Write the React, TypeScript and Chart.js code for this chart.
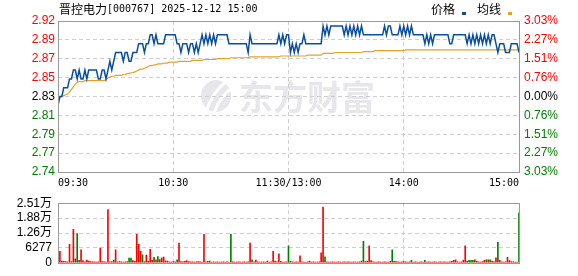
import React, { useEffect, useRef } from 'react';
import { Chart, registerables } from 'chart.js';

Chart.register(...registerables);

const TITLE_NAME = '晋控电力';
const TITLE_INFO = '[000767] 2025-12-12 15:00';
const LEGEND_PRICE = '价格';
const LEGEND_AVG = '均线';
const WATERMARK = '东方财富';

const PREV_CLOSE = 2.83;
const LIMIT_PCT = 3.03;

const timeTickMinutes = [0, 60, 120, 180, 240];
const timeLabels = ['09:30', '10:30', '11:30/13:00', '14:00', '15:00'];
// bottom -> top
const priceTickLabels = ['2.74', '2.77', '2.79', '2.81', '2.83', '2.85', '2.87', '2.89', '2.92'];
const pctTickLabels = ['3.03%', '2.27%', '1.51%', '0.76%', '0.00%', '0.76%', '1.51%', '2.27%', '3.03%'];
const volTickValues = [0, 6277, 12554, 18831, 25108];
const volTickLabels = ['0', '6277', '1.26万', '1.88万', '2.51万'];

const price = [
  2.82, 2.83, 2.83, 2.84, 2.84, 2.84, 2.85, 2.85, 2.86, 2.86,
  2.85, 2.86, 2.85, 2.85, 2.86, 2.85, 2.86, 2.86, 2.86, 2.86,
  2.86, 2.85, 2.85, 2.86, 2.86, 2.85, 2.86, 2.87, 2.86, 2.87,
  2.88, 2.88, 2.88, 2.88, 2.87, 2.88, 2.88, 2.87, 2.87, 2.88,
  2.88, 2.88, 2.89, 2.89, 2.89, 2.88, 2.89, 2.89, 2.90, 2.90,
  2.89, 2.90, 2.89, 2.89, 2.89, 2.89, 2.90, 2.90, 2.90, 2.90,
  2.90, 2.90, 2.89, 2.89, 2.88, 2.89, 2.89, 2.89, 2.88, 2.89,
  2.89, 2.88, 2.89, 2.88, 2.89, 2.90, 2.89, 2.90, 2.89, 2.90,
  2.89, 2.90, 2.89, 2.90, 2.90, 2.90, 2.90, 2.90, 2.90, 2.89,
  2.89, 2.89, 2.89, 2.89, 2.89, 2.89, 2.89, 2.89, 2.89, 2.88,
  2.90, 2.89, 2.89, 2.89, 2.89, 2.89, 2.89, 2.89, 2.89, 2.89,
  2.89, 2.89, 2.89, 2.89, 2.89, 2.90, 2.89, 2.90, 2.89, 2.90,
  2.90, 2.88, 2.89, 2.88, 2.89, 2.88, 2.89, 2.89, 2.90, 2.89,
  2.89, 2.89, 2.89, 2.89, 2.89, 2.89, 2.89, 2.89, 2.91, 2.90,
  2.91, 2.90, 2.91, 2.91, 2.91, 2.91, 2.91, 2.91, 2.91, 2.90,
  2.91, 2.90, 2.91, 2.90, 2.91, 2.90, 2.91, 2.90, 2.91, 2.90,
  2.90, 2.90, 2.90, 2.90, 2.90, 2.90, 2.90, 2.90, 2.90, 2.90,
  2.91, 2.90, 2.91, 2.91, 2.90, 2.90, 2.90, 2.90, 2.91, 2.90,
  2.91, 2.90, 2.91, 2.90, 2.91, 2.90, 2.90, 2.90, 2.90, 2.90,
  2.90, 2.89, 2.90, 2.89, 2.90, 2.89, 2.90, 2.90, 2.90, 2.90,
  2.90, 2.90, 2.90, 2.90, 2.89, 2.89, 2.90, 2.90, 2.90, 2.90,
  2.90, 2.90, 2.90, 2.89, 2.90, 2.89, 2.90, 2.89, 2.90, 2.89,
  2.90, 2.89, 2.90, 2.89, 2.90, 2.89, 2.90, 2.90, 2.89, 2.88,
  2.89, 2.89, 2.89, 2.88, 2.88, 2.88, 2.89, 2.89, 2.89, 2.89,
  2.88,
];

const avgPrice = [
  2.829, 2.829, 2.830, 2.831, 2.832, 2.833, 2.835, 2.838, 2.841, 2.844,
  2.846, 2.847, 2.847, 2.847, 2.848, 2.848, 2.848, 2.848, 2.848, 2.848,
  2.848, 2.848, 2.848, 2.848, 2.848, 2.849, 2.851, 2.852, 2.853, 2.853,
  2.854, 2.854, 2.854, 2.854, 2.855, 2.855, 2.856, 2.856, 2.857, 2.857,
  2.858, 2.859, 2.860, 2.861, 2.861, 2.862, 2.863, 2.864, 2.865, 2.865,
  2.866, 2.866, 2.867, 2.867, 2.867, 2.868, 2.868, 2.868, 2.869, 2.869,
  2.869, 2.869, 2.869, 2.870, 2.870, 2.870, 2.870, 2.870, 2.870, 2.870,
  2.871, 2.871, 2.871, 2.871, 2.871, 2.871, 2.872, 2.872, 2.872, 2.872,
  2.872, 2.872, 2.872, 2.873, 2.873, 2.873, 2.873, 2.873, 2.873, 2.873,
  2.874, 2.874, 2.874, 2.874, 2.874, 2.874, 2.874, 2.874, 2.874, 2.874,
  2.875, 2.875, 2.875, 2.875, 2.875, 2.875, 2.875, 2.875, 2.875, 2.875,
  2.875, 2.875, 2.875, 2.875, 2.875, 2.875, 2.876, 2.876, 2.876, 2.876,
  2.876, 2.876, 2.876, 2.876, 2.876, 2.876, 2.876, 2.876, 2.876, 2.876,
  2.877, 2.877, 2.877, 2.877, 2.877, 2.877, 2.877, 2.877, 2.879, 2.879,
  2.879, 2.879, 2.879, 2.879, 2.880, 2.880, 2.880, 2.880, 2.880, 2.880,
  2.880, 2.880, 2.880, 2.880, 2.880, 2.880, 2.880, 2.880, 2.880, 2.881,
  2.881, 2.881, 2.881, 2.881, 2.881, 2.882, 2.882, 2.882, 2.882, 2.882,
  2.882, 2.882, 2.882, 2.882, 2.882, 2.882, 2.882, 2.882, 2.882, 2.882,
  2.882, 2.883, 2.883, 2.883, 2.883, 2.883, 2.883, 2.883, 2.883, 2.883,
  2.883, 2.883, 2.883, 2.883, 2.883, 2.883, 2.883, 2.883, 2.883, 2.883,
  2.883, 2.883, 2.883, 2.883, 2.883, 2.883, 2.883, 2.883, 2.883, 2.883,
  2.883, 2.883, 2.883, 2.883, 2.883, 2.883, 2.883, 2.883, 2.883, 2.883,
  2.883, 2.883, 2.883, 2.883, 2.883, 2.883, 2.883, 2.883, 2.883, 2.883,
  2.883, 2.883, 2.883, 2.883, 2.883, 2.883, 2.883, 2.883, 2.883, 2.883,
  2.883,
];

const volume = [
  300, 4800, 700, 600, 500, 400, 7800, 500, 14100, 1700,
  12300, 1000, 5500, 900, 400, 1100, 700, 500, 400, 400,
  300, 400, 6200, 500, 400, 300, 22400, 400, 500, 1100,
  5500, 400, 500, 400, 300, 400, 500, 2000, 2000, 900,
  600, 12000, 7800, 4800, 3400, 500, 3200, 600, 5700, 1000,
  2300, 1200, 2600, 1400, 2100, 2400, 800, 700, 400, 300,
  500, 400, 1200, 8300, 500, 400, 600, 900, 500, 400,
  400, 300, 400, 500, 400, 300, 12000, 400, 600, 700,
  300, 400, 300, 400, 300, 300, 400, 300, 400, 300,
  12000, 400, 300, 300, 400, 300, 300, 400, 300, 400,
  8300, 1300, 400, 1100, 400, 300, 300, 400, 300, 700,
  300, 400, 4800, 700, 400, 3800, 600, 300, 300, 400,
  7200, 600, 400, 300, 400, 300, 2900, 400, 300, 300,
  400, 700, 300, 400, 300, 300, 400, 4200, 23500, 2500,
  400, 300, 300, 400, 300, 300, 400, 300, 300, 400,
  300, 400, 300, 300, 400, 300, 300, 400, 700, 9000,
  500, 700, 7200, 900, 400, 300, 300, 400, 300, 300,
  400, 300, 300, 600, 5500, 600, 500, 400, 300, 400,
  500, 400, 300, 400, 1000, 300, 400, 300, 300, 400,
  300, 1000, 300, 400, 300, 300, 400, 300, 300, 400,
  300, 400, 300, 300, 400, 600, 1000, 1300, 400, 300,
  400, 1100, 7200, 700, 1000, 1000, 1000, 1300, 700, 400,
  300, 500, 1000, 1300, 1300, 1300, 700, 400, 2100, 8600,
  1000, 400, 300, 400, 2300, 900, 500, 400, 300, 300,
  21000,
];

// minutes whose volume was sell-dominated (drawn green)
const downMinutes = [10, 11, 29, 37, 38, 44, 50, 52, 62, 79, 90, 101, 116, 120, 121, 139, 159, 174, 184, 191, 205, 214, 215, 216, 218, 223, 225, 229, 240];

const RED = '#ff0000';
const GREEN = '#008000';
const PRICE_COLOR = '#0a4f9e';
const AVG_COLOR = '#e0a526';
const GRID = '#cfcfcf';
const FRAME = '#999999';
const NUM_FONT = "'Liberation Sans', Arial, 'Noto Sans CJK SC', sans-serif";
const CJK_FONT = "'Noto Sans CJK SC', sans-serif";
const MONO_FONT = "'DejaVu Sans Mono', monospace";

const frameRect = (chart: any) => {
  const { ctx, chartArea: a } = chart;
  ctx.save();
  ctx.strokeStyle = FRAME;
  ctx.lineWidth = 1;
  ctx.strokeRect(Math.round(a.left) + 0.5, Math.round(a.top) + 0.5, Math.round(a.right - a.left), Math.round(a.bottom - a.top));
  ctx.restore();
};

export default function App() {
  const priceRef = useRef<HTMLCanvasElement | null>(null);
  const volRef = useRef<HTMLCanvasElement | null>(null);

  useEffect(() => {
    document.body.style.margin = '0';
    const yMax = PREV_CLOSE * (1 + LIMIT_PCT / 100);
    const yMin = PREV_CLOSE * (1 - LIMIT_PCT / 100);
    const labelColor = (i: number) => (i < 4 ? GREEN : i === 4 ? '#000000' : RED);
    const priceTicks = () => priceTickLabels.map((_, k) => ({ value: yMin + (k * (yMax - yMin)) / 8 }));
    const hideEdge = (last: number) => (c: any) => (c.index === 0 || c.index === last ? 'rgba(0,0,0,0)' : GRID);

    const xScale = (showLabels: boolean, height: number) => ({
      type: 'linear',
      min: 0,
      max: 240,
      offset: false,
      afterBuildTicks: (s: any) => {
        s.ticks = timeTickMinutes.map((v) => ({ value: v }));
      },
      afterFit: (s: any) => {
        s.height = height;
      },
      ticks: {
        display: showLabels,
        autoSkip: false,
        maxRotation: 0,
        minRotation: 0,
        align: 'inner',
        padding: 5,
        color: '#000000',
        font: { family: MONO_FONT, size: 10 },
        callback: (_v: any, i: number) => timeLabels[i],
      },
      grid: { drawTicks: false, offset: false, color: hideEdge(4), lineWidth: 1 },
      border: { display: false, dash: [4, 3] },
    });

    const decor = {
      id: 'decor',
      beforeDraw(chart: any) {
        const { ctx } = chart;
        ctx.save();
        // watermark logo
        ctx.fillStyle = '#e6e6eb';
        ctx.beginPath();
        ctx.ellipse(216, 96, 15, 16, 0, 0, Math.PI * 2);
        ctx.fill();
        ctx.strokeStyle = '#ffffff';
        ctx.lineWidth = 3;
        ctx.beginPath();
        ctx.moveTo(206, 112);
        ctx.quadraticCurveTo(212, 92, 228, 80);
        ctx.stroke();
        ctx.beginPath();
        ctx.moveTo(214, 113);
        ctx.quadraticCurveTo(220, 96, 232, 88);
        ctx.stroke();
        // watermark text
        ctx.fillStyle = '#e6e6eb';
        ctx.font = `bold 34px ${CJK_FONT}`;
        ctx.textAlign = 'left';
        ctx.textBaseline = 'middle';
        ctx.fillText(WATERMARK, 239, 97);
        ctx.restore();
      },
      afterDraw(chart: any) {
        const { ctx } = chart;
        frameRect(chart);
        ctx.save();
        ctx.fillStyle = '#000000';
        ctx.textAlign = 'left';
        ctx.textBaseline = 'middle';
        ctx.font = `12px ${CJK_FONT}`;
        ctx.fillText(TITLE_NAME, 59, 9);
        ctx.font = `10px ${MONO_FONT}`;
        ctx.fillText(TITLE_INFO, 107, 9);
        ctx.font = `12px ${CJK_FONT}`;
        ctx.fillText(LEGEND_PRICE, 431, 9);
        ctx.fillText(LEGEND_AVG, 477, 9);
        ctx.fillStyle = PRICE_COLOR;
        ctx.fillRect(462, 12, 4, 3);
        ctx.fillStyle = AVG_COLOR;
        ctx.fillRect(508, 12, 4, 3);
        ctx.restore();
      },
    };

    const priceChart = new Chart(priceRef.current as HTMLCanvasElement, {
      type: 'line',
      data: {
        datasets: [
          {
            label: LEGEND_PRICE,
            data: price.map((v, i) => ({ x: i, y: v })),
            borderColor: PRICE_COLOR,
            borderWidth: 1.5,
            pointRadius: 0,
            tension: 0,
            fill: false,
          },
          {
            label: LEGEND_AVG,
            data: avgPrice.map((v, i) => ({ x: i, y: v })),
            borderColor: AVG_COLOR,
            borderWidth: 1.2,
            pointRadius: 0,
            tension: 0,
            fill: false,
          },
        ],
      },
      options: {
        responsive: false,
        animation: false,
        events: [],
        layout: { padding: { top: 21, left: 0, right: 0, bottom: 0 } },
        plugins: { legend: { display: false }, tooltip: { enabled: false }, title: { display: false } },
        scales: {
          x: xScale(true, 18) as any,
          y: {
            type: 'linear',
            position: 'left',
            min: yMin,
            max: yMax,
            afterBuildTicks: (s: any) => {
              s.ticks = priceTicks();
            },
            afterFit: (s: any) => {
              s.width = 58;
            },
            ticks: {
              autoSkip: false,
              padding: 3,
              font: { family: NUM_FONT, size: 12 },
              color: (c: any) => labelColor(c.index),
              callback: (_v: any, i: number) => priceTickLabels[i],
            },
            grid: { drawTicks: false, color: hideEdge(8), lineWidth: 1 },
            border: { display: false, dash: [4, 3] },
          },
          y2: {
            type: 'linear',
            position: 'right',
            min: yMin,
            max: yMax,
            afterBuildTicks: (s: any) => {
              s.ticks = priceTicks();
            },
            afterFit: (s: any) => {
              s.width = 59;
            },
            ticks: {
              autoSkip: false,
              padding: 5,
              font: { family: NUM_FONT, size: 12 },
              color: (c: any) => labelColor(c.index),
              callback: (_v: any, i: number) => pctTickLabels[i],
            },
            grid: { drawOnChartArea: false, drawTicks: false },
            border: { display: false },
          },
        },
      },
      plugins: [decor],
    } as any);

    const downSet = new Set(downMinutes);
    const volChart = new Chart(volRef.current as HTMLCanvasElement, {
      type: 'bar',
      data: {
        datasets: [
          {
            data: volume.map((v, i) => ({ x: i, y: v })),
            backgroundColor: volume.map((_, i) => (downSet.has(i) ? GREEN : RED)),
            borderWidth: 0,
            barThickness: 1,
          },
        ],
      },
      options: {
        responsive: false,
        animation: false,
        events: [],
        layout: { padding: { top: 7, left: 0, right: 59, bottom: 0 } },
        plugins: { legend: { display: false }, tooltip: { enabled: false } },
        scales: {
          x: xScale(false, 6) as any,
          y: {
            type: 'linear',
            position: 'left',
            min: 0,
            max: volTickValues[volTickValues.length - 1],
            afterBuildTicks: (s: any) => {
              s.ticks = volTickValues.map((v) => ({ value: v }));
            },
            afterFit: (s: any) => {
              s.width = 58;
            },
            ticks: {
              autoSkip: false,
              padding: 6,
              color: '#000000',
              font: { family: NUM_FONT, size: 12 },
              callback: (_v: any, i: number) => volTickLabels[i],
            },
            grid: { drawTicks: false, color: hideEdge(4), lineWidth: 1 },
            border: { display: false, dash: [4, 3] },
          },
        },
      },
      plugins: [{ id: 'frame', afterDraw: (c: any) => frameRect(c) }],
    } as any);

    return () => {
      priceChart.destroy();
      volChart.destroy();
    };
  }, []);

  return (
    <div style={{ position: 'relative', width: 578, height: 276, background: '#ffffff' }}>
      <canvas ref={priceRef} width={578} height={190} style={{ position: 'absolute', left: 0, top: 0, display: 'block' }} />
      <canvas ref={volRef} width={578} height={86} style={{ position: 'absolute', left: 0, top: 190, display: 'block' }} />
    </div>
  );
}
